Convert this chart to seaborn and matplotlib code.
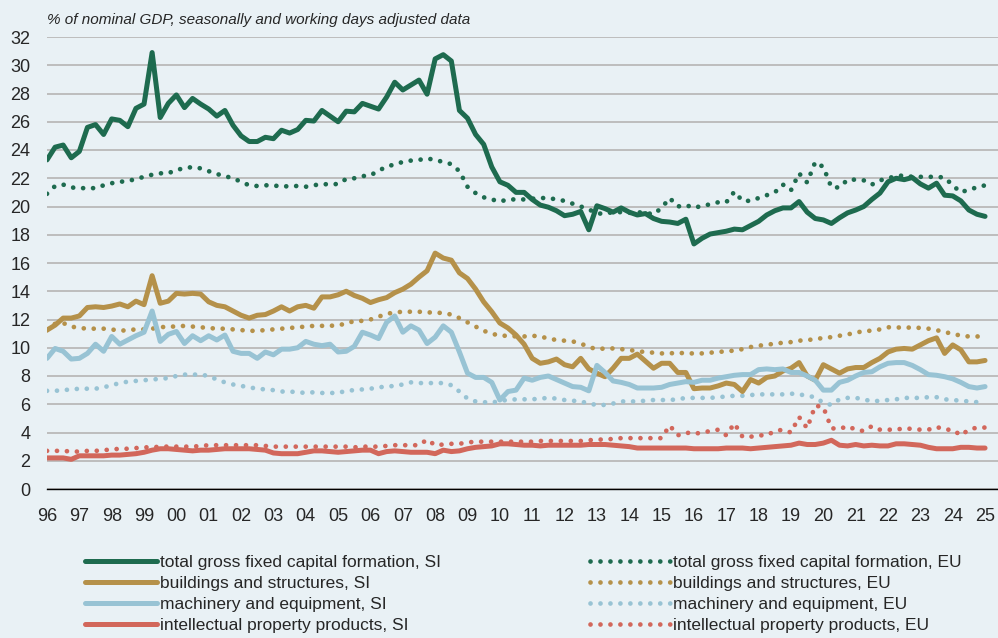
import numpy as np
import pandas as pd
import matplotlib
matplotlib.use("Agg")
import matplotlib.pyplot as plt
from matplotlib import font_manager
import seaborn as sns

# quarterly observations, 1996Q1 .. 2025Q1 (117 points), % of nominal GDP
start_year = 1996
year_ticks = list(range(1996, 2026))

total_si = [
    23.3, 24.2, 24.35, 23.45,  23.9, 25.6, 25.8, 25.1,  26.2, 26.1, 25.65, 26.95,
    27.25, 30.9, 26.3, 27.3,  27.9, 27.0, 27.65, 27.25,  26.9, 26.4, 26.8, 25.75,
    25.0, 24.6, 24.6, 24.9,  24.8, 25.4, 25.2, 25.45,  26.1, 26.05, 26.8, 26.4,
    26.0, 26.75, 26.7, 27.3,  27.1, 26.9, 27.75, 28.8,  28.25, 28.6, 28.95, 27.95,
    30.45, 30.75, 30.3, 26.8,  26.25, 25.1, 24.4, 22.8,  21.75, 21.5, 21.0, 21.0,
    20.5, 20.1, 19.95, 19.7,  19.35, 19.45, 19.65, 18.35,  20.05, 19.85, 19.6, 19.9,
    19.6, 19.4, 19.5, 19.15,  18.95, 18.9, 18.8, 19.1,  17.35, 17.75, 18.05, 18.15,
    18.25, 18.4, 18.35, 18.65,  18.95, 19.4, 19.7, 19.9,  19.9, 20.35, 19.6, 19.15,
    19.05, 18.8, 19.2, 19.55,  19.75, 20.0, 20.5, 20.95,  21.75, 22.0, 21.9, 22.05,
    21.6, 21.3, 21.65, 20.8,  20.75, 20.4, 19.75, 19.45,  19.3,
]
total_eu = [
    20.9, 21.45, 21.55, 21.35,  21.3, 21.3, 21.3, 21.5,  21.65, 21.75, 21.8, 21.95,
    22.1, 22.25, 22.35, 22.35,  22.6, 22.7, 22.8, 22.7,  22.5, 22.3, 22.15, 22.0,
    21.75, 21.5, 21.45, 21.5,  21.5, 21.4, 21.45, 21.45,  21.4, 21.5, 21.6, 21.55,
    21.6, 21.95, 22.0, 22.15,  22.2, 22.55, 22.8, 23.0,  23.15, 23.25, 23.3, 23.4,
    23.3, 23.15, 23.0, 22.5,  21.4, 20.95, 20.65, 20.5,  20.35, 20.5, 20.5, 20.5,
    20.55, 20.6, 20.6, 20.5,  20.4, 20.2, 20.0, 19.8,  19.5, 19.5, 19.6, 19.6,
    19.55, 19.6, 19.55, 19.45,  19.9, 20.6, 20.0, 20.1,  19.9, 20.05, 20.15, 20.3,
    20.3, 21.05, 20.4, 20.4,  20.6, 20.8, 21.0, 21.55,  21.15, 22.35, 21.7, 23.15,
    22.8, 21.35, 21.35, 21.9,  21.9, 21.85, 21.55, 21.85,  22.0, 22.15, 22.2, 22.1,
    22.1, 22.1, 22.1, 22.05,  21.5, 21.0, 21.2, 21.35,  21.5,
]
build_si = [
    11.25, 11.6, 12.1, 12.1,  12.25, 12.85, 12.9, 12.85,  12.95, 13.1, 12.9, 13.3,
    13.05, 15.1, 13.15, 13.3,  13.85, 13.8, 13.85, 13.8,  13.25, 13.0, 12.9, 12.6,
    12.3, 12.1, 12.3, 12.35,  12.6, 12.9, 12.6, 12.9,  13.0, 12.8, 13.6, 13.6,
    13.75, 14.0, 13.7, 13.5,  13.2, 13.4, 13.55, 13.9,  14.15, 14.5, 15.0, 15.45,
    16.7, 16.35, 16.2, 15.3,  14.9, 14.15, 13.25, 12.55,  11.75, 11.4, 10.9, 10.25,
    9.25, 8.9, 9.0, 9.2,  8.8, 8.65, 9.25, 8.5,  8.2, 7.95, 8.55, 9.25,
    9.25, 9.55, 9.05, 8.55,  8.9, 8.9, 8.25, 8.25,  7.1, 7.15, 7.15, 7.3,
    7.5, 7.4, 6.9, 7.75,  7.5, 7.9, 8.0, 8.35,  8.55, 8.95, 8.0, 7.7,
    8.8, 8.5, 8.2, 8.5,  8.6, 8.6, 8.95, 9.25,  9.7, 9.9, 9.95, 9.9,
    10.2, 10.5, 10.7, 9.6,  10.2, 9.85, 9.0, 9.0,  9.1,
]
build_eu = [
    11.25, 11.7, 11.75, 11.5,  11.4, 11.35, 11.35, 11.35,  11.3, 11.2, 11.25, 11.3,
    11.3, 11.35, 11.45, 11.5,  11.5, 11.55, 11.5, 11.45,  11.4, 11.35, 11.35, 11.3,
    11.25, 11.2, 11.2, 11.25,  11.3, 11.35, 11.4, 11.45,  11.5, 11.55, 11.55, 11.55,
    11.6, 11.7, 11.9, 11.9,  12.0, 12.2, 12.4, 12.5,  12.55, 12.55, 12.55, 12.5,
    12.5, 12.45, 12.35, 12.1,  11.8, 11.5, 11.2, 11.0,  10.85, 10.85, 10.8, 10.8,
    10.85, 10.8, 10.65, 10.55,  10.5, 10.45, 10.3, 10.05,  9.9, 9.95, 9.95, 9.9,
    9.85, 9.75, 9.7, 9.65,  9.6, 9.6, 9.65, 9.6,  9.6, 9.6, 9.65, 9.7,
    9.75, 9.8, 9.9, 10.05,  10.15, 10.2, 10.3, 10.35,  10.4, 10.5, 10.55, 10.6,
    10.7, 10.75, 10.85, 10.95,  11.05, 11.2, 11.2, 11.3,  11.45, 11.45, 11.4, 11.45,
    11.4, 11.35, 11.25, 11.1,  11.0, 10.85, 10.8, 10.8,  10.8,
]
mach_si = [
    9.25, 9.95, 9.75, 9.2,  9.25, 9.6, 10.25, 9.75,  10.8, 10.25, 10.55, 10.85,
    11.1, 12.6, 10.45, 10.95,  11.15, 10.3, 10.85, 10.5,  10.85, 10.55, 10.9, 9.75,
    9.6, 9.6, 9.25, 9.7,  9.5, 9.9, 9.9, 10.0,  10.45, 10.25, 10.15, 10.25,
    9.7, 9.75, 10.1, 11.1,  10.9, 10.65, 11.8, 12.25,  11.1, 11.55, 11.25, 10.3,
    10.75, 11.55, 11.1, 9.7,  8.2, 7.9, 7.9, 7.55,  6.3, 6.9, 7.0, 7.85,
    7.7, 7.9, 8.0, 7.75,  7.5, 7.25, 7.2, 6.95,  8.75, 8.25, 7.65, 7.55,
    7.4, 7.15, 7.15, 7.15,  7.2, 7.4, 7.5, 7.6,  7.55, 7.7, 7.7, 7.85,
    7.95, 8.05, 8.1, 8.1,  8.45, 8.5, 8.45, 8.5,  8.25, 8.25, 8.0, 7.7,
    7.0, 7.0, 7.55, 7.7,  8.0, 8.25, 8.3, 8.65,  8.9, 8.95, 8.95, 8.75,
    8.45, 8.1, 8.05, 7.95,  7.8, 7.55, 7.25, 7.15,  7.25,
]
mach_eu = [
    6.95, 6.95, 7.0, 7.05,  7.1, 7.1, 7.1, 7.2,  7.35, 7.5, 7.6, 7.65,
    7.7, 7.75, 7.8, 7.85,  8.0, 8.1, 8.1, 8.1,  8.0, 7.75, 7.55, 7.4,
    7.3, 7.2, 7.1, 7.05,  7.0, 6.9, 6.9, 6.85,  6.8, 6.85, 6.8, 6.8,
    6.8, 6.95, 7.0, 7.05,  7.1, 7.2, 7.25, 7.3,  7.4, 7.55, 7.5, 7.5,
    7.5, 7.5, 7.35, 6.9,  6.4, 6.2, 6.15, 6.1,  6.25, 6.3, 6.35, 6.35,
    6.35, 6.4, 6.45, 6.4,  6.3, 6.25, 6.2, 6.05,  5.95, 5.95, 6.05, 6.2,
    6.2, 6.2, 6.25, 6.3,  6.3, 6.3, 6.35, 6.45,  6.45, 6.45, 6.45, 6.5,
    6.55, 6.6, 6.6, 6.65,  6.7, 6.7, 6.7, 6.7,  6.75, 6.7, 6.6, 6.5,
    6.1, 5.95, 6.35, 6.45,  6.45, 6.35, 6.2, 6.25,  6.3, 6.35, 6.45, 6.45,
    6.45, 6.5, 6.5, 6.35,  6.3, 6.25, 6.2, 6.15,  6.15,
]
ipp_si = [
    2.2, 2.2, 2.2, 2.1,  2.35, 2.35, 2.35, 2.35,  2.4, 2.4, 2.45, 2.5,
    2.6, 2.75, 2.85, 2.85,  2.8, 2.75, 2.7, 2.75,  2.75, 2.8, 2.85, 2.85,
    2.85, 2.85, 2.8, 2.75,  2.55, 2.5, 2.5, 2.5,  2.6, 2.7, 2.7, 2.65,
    2.6, 2.65, 2.7, 2.75,  2.75, 2.5, 2.65, 2.7,  2.65, 2.6, 2.6, 2.6,
    2.5, 2.75, 2.65, 2.7,  2.85, 2.95, 3.0, 3.05,  3.2, 3.2, 3.15, 3.1,
    3.1, 3.05, 3.1, 3.1,  3.1, 3.1, 3.1, 3.15,  3.15, 3.15, 3.1, 3.05,
    3.0, 2.9, 2.9, 2.9,  2.9, 2.9, 2.9, 2.9,  2.85, 2.85, 2.85, 2.85,
    2.9, 2.9, 2.9, 2.85,  2.9, 2.95, 3.0, 3.05,  3.1, 3.25, 3.15, 3.15,
    3.25, 3.45, 3.1, 3.05,  3.15, 3.05, 3.1, 3.05,  3.05, 3.2, 3.2, 3.15,
    3.1, 2.95, 2.85, 2.85,  2.85, 2.95, 2.95, 2.9,  2.9,
]
ipp_eu = [
    2.7, 2.7, 2.7, 2.65,  2.65, 2.7, 2.7, 2.75,  2.8, 2.85, 2.85, 2.9,
    2.95, 2.95, 3.0, 3.0,  3.0, 3.0, 3.0, 3.05,  3.1, 3.1, 3.1, 3.1,
    3.1, 3.1, 3.1, 3.05,  3.0, 3.0, 3.0, 3.0,  3.0, 3.0, 3.0, 3.0,
    3.0, 3.0, 2.95, 3.0,  3.0, 3.0, 3.05, 3.1,  3.1, 3.1, 3.1, 3.5,
    3.1, 3.15, 3.2, 3.2,  3.3, 3.35, 3.35, 3.35,  3.35, 3.35, 3.35, 3.35,
    3.35, 3.4, 3.4, 3.4,  3.4, 3.4, 3.4, 3.45,  3.5, 3.5, 3.55, 3.6,
    3.6, 3.6, 3.6, 3.6,  3.6, 4.5, 3.8, 4.0,  3.9, 4.0, 4.1, 4.2,
    3.8, 4.65, 3.7, 3.7,  3.8, 3.8, 4.1, 4.2,  4.0, 5.1, 4.3, 5.9,
    5.8, 4.3, 4.25, 4.45,  4.2, 4.1, 4.45, 4.2,  4.2, 4.2, 4.3, 4.25,
    4.2, 4.2, 4.4, 4.2,  4.2, 3.8, 4.2, 4.35,  4.35,
]

series_si = [
    ("total gross fixed capital formation, SI", total_si),
    ("buildings and structures, SI", build_si),
    ("machinery and equipment, SI", mach_si),
    ("intellectual property products, SI", ipp_si),
]
series_eu = [
    ("total gross fixed capital formation, EU", total_eu),
    ("buildings and structures, EU", build_eu),
    ("machinery and equipment, EU", mach_eu),
    ("intellectual property products, EU", ipp_eu),
]
colors = ["#1e6b4f", "#b5914a", "#98c3d4", "#d2675b"]
BG = "#e9f1f5"


def pick_font(names):
    for n in names:
        try:
            font_manager.findfont(n, fallback_to_default=False)
            return n
        except Exception:
            pass
    return "DejaVu Sans"


def main():
    sns.set_style("white", {"axes.facecolor": BG, "figure.facecolor": BG})
    # no narrow Arial here, so a slightly smaller regular sans stands in
    narrow = pick_font(["Liberation Sans Narrow", "Liberation Sans"])
    plt.rcParams["font.family"] = [narrow, "DejaVu Sans"]
    fs = 14 if "Narrow" in narrow else 12.5

    x = start_year + np.arange(len(total_si)) / 4.0

    fig = plt.figure(figsize=(9.98, 6.38), dpi=100)
    ax = fig.add_axes([47 / 998, 1 - 489 / 638, 951 / 998, 452 / 638])

    for (name, vals), c in zip(series_eu, colors):
        sns.lineplot(x=x, y=vals, ax=ax, color=c, linewidth=3.4,
                     linestyle=(0, (0.01, 2.1)), dash_capstyle="round",
                     label=name)
    for (name, vals), c in zip(series_si, colors):
        sns.lineplot(x=x, y=vals, ax=ax, color=c, linewidth=3.6,
                     solid_joinstyle="round", label=name)

    ax.set_xlim(1996, 2025.4)
    ax.set_ylim(0, 32)
    ax.set_yticks(range(0, 33, 2))
    ax.set_xticks(year_ticks)
    ax.set_xticklabels([f"{y % 100:02d}" for y in year_ticks])
    ax.yaxis.grid(True, color="#bdbdbd", linewidth=1.4)
    ax.set_axisbelow(True)
    for s in ["top", "right", "left"]:
        ax.spines[s].set_visible(False)
    ax.spines["bottom"].set_color("black")
    ax.spines["bottom"].set_linewidth(1.0)
    ax.tick_params(axis="y", length=0, pad=12, labelsize=fs + 0.5)
    ax.tick_params(axis="x", direction="out", length=5, width=1,
                   color="black", pad=9, labelsize=fs + 0.5)
    ax.set_xlabel("")
    ax.set_ylabel("")

    handles, labels = ax.get_legend_handles_labels()
    ax.get_legend().remove()
    eu_h, si_h = handles[:4], handles[4:]
    eu_l, si_l = labels[:4], labels[4:]

    # keep the last legend row just inside the bottom edge
    common = dict(loc="upper left", frameon=False, fontsize=fs,
                  borderpad=0, borderaxespad=0, labelspacing=0.33,
                  handletextpad=0.17)
    fig.legend(si_h, si_l, bbox_to_anchor=(85 / 998, 1 - 555 / 638),
               handlelength=4.15, **common)
    fig.legend(eu_h, eu_l, bbox_to_anchor=(590 / 998, 1 - 555 / 638),
               handlelength=4.6, **common)

    fig.text(47 / 998, 1 - 20 / 638,
             "% of nominal GDP, seasonally and working days adjusted data",
             style="italic", fontsize=11, va="center", ha="left",
             family=["Liberation Sans", "DejaVu Sans"])

    fig.savefig("out.png", dpi=100, facecolor=BG)
    plt.close(fig)


if __name__ == "__main__":
    main()
